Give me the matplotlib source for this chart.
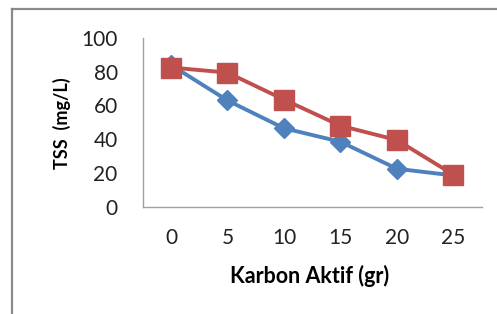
import matplotlib
matplotlib.use("Agg")
import matplotlib.pyplot as plt
from matplotlib.lines import Line2D

categories = ["0", "5", "10", "15", "20", "25"]
series_blue = [84, 63, 46.5, 38.5, 22.5, 18.5]
series_red = [82.5, 79.5, 63.5, 48, 39.5, 19]
yticks = [0, 20, 40, 60, 80, 100]

W, H = 497, 314
fig = plt.figure(figsize=(W / 100, H / 100), dpi=100)
fig.patch.set_facecolor("white")

# outer border (top and left visible)
fig.add_artist(Line2D([12 / W, 12 / W], [0, 1 - 9 / H], transform=fig.transFigure,
                      color="#8a8a8a", lw=1.6))
fig.add_artist(Line2D([12 / W, 1], [1 - 9 / H, 1 - 9 / H], transform=fig.transFigure,
                      color="#8a8a8a", lw=1.6))

ax_w = 481.7 - 142.7
ax_h = 206.7 - 38
ax = fig.add_axes([142.7 / W, 1 - 206.7 / H, ax_w / W, ax_h / H])
x = list(range(len(categories)))
ax.plot(x, series_blue, color="#4F81BD", lw=2.8, marker="D", markersize=10.5,
        markerfacecolor="#4F81BD", markeredgecolor="#4F81BD", zorder=3)
ax.plot(x, series_red, color="#C0504D", lw=2.8, marker="s", markersize=14.5,
        markerfacecolor="#C0504D", markeredgecolor="#C0504D", zorder=4)

ax.set_xlim(-0.5, len(categories) - 0.5)
ax.set_ylim(0, 100)
ax.set_xticks(x)
ax.set_xticklabels(categories)
ax.set_yticks(yticks)
for s in ["top", "right"]:
    ax.spines[s].set_visible(False)
for s in ["left", "bottom"]:
    ax.spines[s].set_color("#a0a0a0")
    ax.spines[s].set_linewidth(1.0)
ax.tick_params(length=0, labelsize=15, colors="#222222", labelfontfamily="Lato")
ax.tick_params(axis="x", pad=15)
ax.tick_params(axis="y", pad=18)

ax.set_xlabel("Karbon Aktif (gr)", fontsize=15.5, fontweight="bold", family="Lato",
              va="center")
ax.xaxis.set_label_coords((310 - 142.7) / ax_w, (206.7 - 276) / ax_h)
ax.set_ylabel("TSS  (mg/L)", fontsize=13, fontweight="bold", family="Lato",
              va="center")
ax.yaxis.set_label_coords((62 - 142.7) / ax_w, (206.7 - 123) / ax_h)

fig.savefig("out.png", dpi=100)
